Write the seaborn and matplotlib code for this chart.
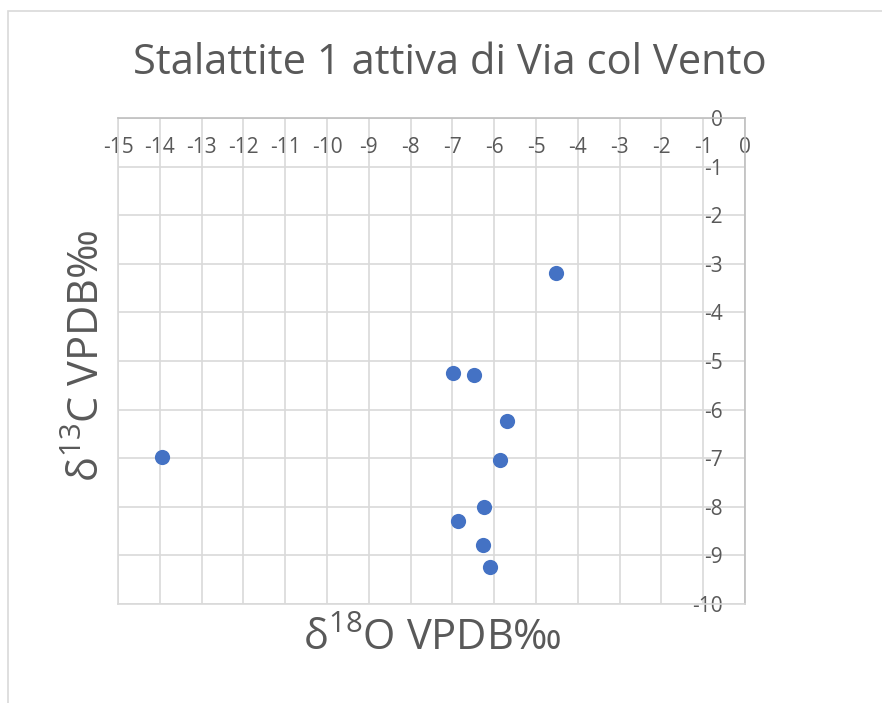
import matplotlib
matplotlib.use("Agg")
import matplotlib.pyplot as plt
import seaborn as sns
import pandas as pd
from matplotlib.patches import Rectangle

# Data
d18O = [-4.51, -6.99, -6.49, -5.69, -5.85, -13.95, -6.24, -6.86, -6.27, -6.11]
d13C = [-3.19, -5.24, -5.29, -6.23, -7.04, -6.98, -8.00, -8.29, -8.78, -9.24]
x_ticks = list(range(-15, 1))
y_ticks = list(range(-10, 1))
title = "Stalattite 1 attiva di Via col Vento"
xlabel = r"δ$^{\mathregular{18}}$O VPDB‰"
ylabel = r"δ$^{\mathregular{13}}$C VPDB‰"

sns.set_theme(style="white")
plt.rcParams['font.family'] = ['Open Sans', 'DejaVu Sans']
plt.rcParams['mathtext.default'] = 'regular'

TXT = "#595959"
GRID = "#D9D9D9"
AXIS = "#BFBFBF"

fig = plt.figure(figsize=(8.82, 7.03), dpi=100)
fig.patch.set_facecolor("white")
fig.patches.append(Rectangle((8/882, -0.5), 2.0, 1.5 - 11/703, transform=fig.transFigure,
                             fill=False, edgecolor=GRID, linewidth=1.2, zorder=0))

ax = fig.add_axes([118/882, 1 - 604/703, (745-118)/882, (604-118)/703])
df = pd.DataFrame({"x": d18O, "y": d13C})
sns.scatterplot(data=df, x="x", y="y", ax=ax, color="#4472C4", s=120, linewidth=0, zorder=3)

ax.set_xlim(-15, 0)
ax.set_ylim(-10, 0)
ax.set_xticks(x_ticks)
ax.set_yticks(y_ticks)
ax.set_xticklabels([str(v) for v in x_ticks])
ax.set_yticklabels([str(v) for v in y_ticks])
ax.grid(True, color=GRID, linewidth=1.2)
ax.set_axisbelow(True)

for s in ["left", "bottom"]:
    ax.spines[s].set_color(GRID)
    ax.spines[s].set_linewidth(1.2)
for s in ["top", "right"]:
    ax.spines[s].set_color(AXIS)
    ax.spines[s].set_linewidth(1.2)

ax.tick_params(axis="x", bottom=False, labelbottom=False, top=False, labeltop=True,
               length=0, pad=-29, labelsize=15, labelcolor=TXT)
ax.tick_params(axis="y", left=False, labelleft=False, right=False, labelright=True,
               length=0, pad=-16, labelsize=15, labelcolor=TXT)
for t in ax.yaxis.get_major_ticks():
    t.label2.set_horizontalalignment("right")

ax.set_xlabel("")
ax.set_ylabel("")
fig.text(450/882, 1 - 63/703, title, ha="center", va="center", fontsize=30, color=TXT)
fig.text(432/882, 1 - 639/703, xlabel, ha="center", va="center", fontsize=30, color=TXT)
fig.text(88/882, 1 - 356/703, ylabel, ha="center", va="center", fontsize=30, color=TXT, rotation=90)

fig.savefig("out.png", dpi=100, facecolor="white")
